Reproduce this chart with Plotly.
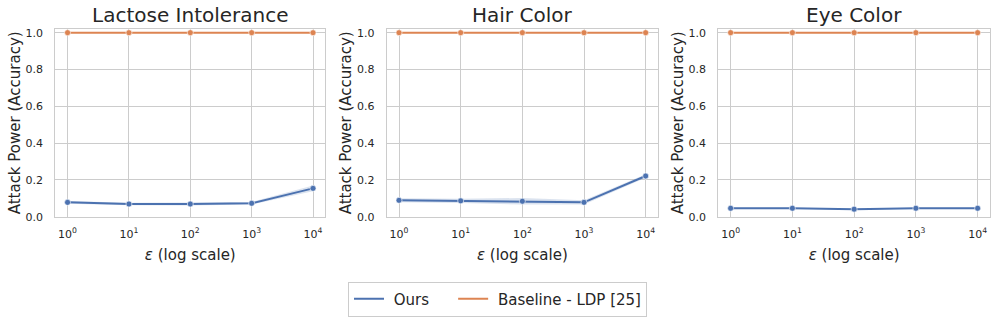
import plotly.graph_objects as go

# ---------------- data ----------------
eps = [1, 10, 100, 1000, 10000]
tick_text = ["10<sup>0</sup>", "10<sup>1</sup>", "10<sup>2</sup>", "10<sup>3</sup>", "10<sup>4</sup>"]
y_ticks = [0.0, 0.2, 0.4, 0.6, 0.8, 1.0]
titles = ["Lactose Intolerance", "Hair Color", "Eye Color"]
series_names = ["Ours", "Baseline - LDP [25]"]

ours_lactose = [0.078, 0.069, 0.069, 0.073, 0.154]
ours_lactose_err = [0.007, 0.007, 0.008, 0.007, 0.016]
ours_hair = [0.089, 0.086, 0.084, 0.078, 0.221]
ours_hair_err = [0.011, 0.011, 0.018, 0.012, 0.010]
ours_eye = [0.046, 0.046, 0.041, 0.046, 0.046]
ours_eye_err = [0.003, 0.003, 0.003, 0.003, 0.003]
baseline_lactose = [1.0, 1.0, 1.0, 1.0, 1.0]
baseline_hair = [1.0, 1.0, 1.0, 1.0, 1.0]
baseline_eye = [1.0, 1.0, 1.0, 1.0, 1.0]

ours = [ours_lactose, ours_hair, ours_eye]
ours_err = [ours_lactose_err, ours_hair_err, ours_eye_err]
baseline = [baseline_lactose, baseline_hair, baseline_eye]

BLUE = "#4c72b0"
ORANGE = "#dd8452"
GRID = "#cccccc"
TXT = "#262626"
FONT = "DejaVu Sans"

W, H = 995, 319
xdomains = [(55.3, 325.3), (386.7, 658.0), (718.3, 990.0)]
ydom = (1 - 216.7 / H, 1 - 29 / H)

fig = go.Figure()

for i in range(3):
    xa = "x" if i == 0 else f"x{i+1}"
    ya = "y" if i == 0 else f"y{i+1}"
    lo = [v - e for v, e in zip(ours[i], ours_err[i])]
    hi = [v + e for v, e in zip(ours[i], ours_err[i])]
    # CI band
    fig.add_trace(go.Scatter(x=eps + eps[::-1], y=hi + lo[::-1], fill="toself",
                             fillcolor="rgba(76,114,176,0.2)", line=dict(width=0),
                             mode="lines", hoverinfo="skip", showlegend=False,
                             xaxis=xa, yaxis=ya))
    fig.add_trace(go.Scatter(x=eps, y=ours[i], mode="lines+markers",
                             line=dict(color=BLUE, width=2),
                             marker=dict(color=BLUE, size=6, line=dict(color="white", width=0.6)),
                             showlegend=False, xaxis=xa, yaxis=ya))
    fig.add_trace(go.Scatter(x=eps, y=baseline[i], mode="lines+markers",
                             line=dict(color=ORANGE, width=2),
                             marker=dict(color=ORANGE, size=6, line=dict(color="white", width=0.6)),
                             showlegend=False, xaxis=xa, yaxis=ya))

# legend-only entries (line samples only)
NB = "\u00a0"
fig.add_trace(go.Scatter(x=[None], y=[None], mode="lines", name=NB + series_names[0] + NB * 4,
                         line=dict(color=BLUE, width=2)))
fig.add_trace(go.Scatter(x=[None], y=[None], mode="lines", name=NB + series_names[1],
                         line=dict(color=ORANGE, width=2)))

for i in range(3):
    xk = "xaxis" if i == 0 else f"xaxis{i+1}"
    yk = "yaxis" if i == 0 else f"yaxis{i+1}"
    ya = "y" if i == 0 else f"y{i+1}"
    xa = "x" if i == 0 else f"x{i+1}"
    d0, d1 = xdomains[i]
    fig.layout[xk] = dict(domain=[d0 / W, d1 / W], anchor=ya, type="log", range=[-0.2, 4.2],
                          automargin=False,
                          tickvals=eps, ticktext=tick_text, showgrid=True, gridcolor=GRID,
                          gridwidth=1, showline=True, linecolor=GRID, linewidth=1, mirror=True,
                          zeroline=False, ticks="outside", ticklen=7, tickcolor="rgba(0,0,0,0)",
                          tickfont=dict(size=11, color=TXT, family=FONT),
                          title=dict(text="<i>ε</i> (log scale)", standoff=9,
                                     font=dict(size=15, color=TXT, family=FONT)))
    fig.layout[yk] = dict(domain=list(ydom), anchor=xa, range=[0, 1.02],
                          automargin=False,
                          tickvals=y_ticks, ticktext=[f"{v:.1f}" for v in y_ticks],
                          showgrid=True, gridcolor=GRID, gridwidth=1, showline=True,
                          linecolor=GRID, linewidth=1, mirror=True, zeroline=False,
                          ticks="outside", ticklen=9, tickcolor="rgba(0,0,0,0)",
                          tickfont=dict(size=11, color=TXT, family=FONT),
                          title=dict(text="Attack Power (Accuracy)", standoff=1,
                                     font=dict(size=15, color=TXT, family=FONT)))
    fig.add_annotation(text=titles[i], x=(d0 + d1) / 2 / W, y=1 - 15 / H, xref="paper", yref="paper",
                       showarrow=False, xanchor="center", yanchor="middle",
                       font=dict(size=20, color=TXT, family=FONT))

fig.update_layout(width=W, height=H, margin=dict(l=0, r=0, t=0, b=0, autoexpand=False),
                  paper_bgcolor="white", plot_bgcolor="white",
                  font=dict(family=FONT, color=TXT),
                  legend=dict(orientation="h", x=0.5, y=1 - 299 / H, xanchor="center", yanchor="middle",
                              bordercolor="#cccccc", borderwidth=1, bgcolor="white",
                              font=dict(size=15, color=TXT, family=FONT), itemwidth=30,
                              tracegroupgap=0))

fig.write_html("out.html", config={"displayModeBar": False},
               post_script="document.body.style.margin='0';document.body.style.padding='0';")
